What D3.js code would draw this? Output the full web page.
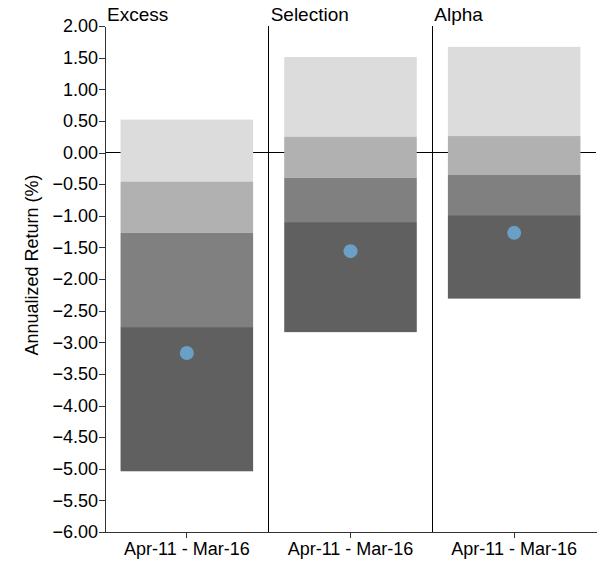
<!DOCTYPE html>
<html lang="en">
<head>
    <meta charset="UTF-8">
    <title>Annualized Return Ranges</title>
    <script src="https://d3js.org/d3.v7.min.js"></script>
    <style>
        body { margin: 0; background: #fff; }
        svg text { font-family: "Liberation Sans", Arial, sans-serif; fill: #000; }
        .axis path, .axis line { fill: none; stroke: #333; shape-rendering: crispEdges; }
        .axis text { font-size: 18px; }
        .divider, .zero { stroke: #000; shape-rendering: crispEdges; }
    </style>
</head>
<body>
    <svg width="607" height="563"></svg>
    <script>
        // data
        const panels = ["Excess", "Selection", "Alpha"];
        const period = "Apr-11 - Mar-16";
        const p5  = [0.52, 1.51, 1.67];
        const p25 = [-0.46, 0.25, 0.26];
        const p50 = [-1.27, -0.40, -0.35];
        const p75 = [-2.76, -1.10, -0.99];
        const p95 = [-5.04, -2.84, -2.31];
        const fund = [-3.17, -1.56, -1.27];
        const yTicks = [2, 1.5, 1, 0.5, 0, -0.5, -1, -1.5, -2, -2.5, -3, -3.5, -4, -4.5, -5, -5.5, -6];
        const bandColors = ["#dcdcdc", "#b1b1b1", "#7f807f", "#606060"];

        const svg = d3.select("svg");
        const plotLeft = 105, plotRight = 596, plotTop = 26, plotBottom = 532;

        const y = d3.scaleLinear().domain([-6, 2]).range([plotBottom, plotTop]);
        const x = d3.scaleBand().domain(panels).range([plotLeft, plotRight]);
        const inner = d3.scaleBand().domain([period]).range([0, x.bandwidth()]).padding(0.105);

        // zero line behind the bars
        svg.append("line").attr("class", "zero")
            .attr("x1", plotLeft).attr("x2", plotRight)
            .attr("y1", y(0)).attr("y2", y(0));

        // panel dividers
        svg.selectAll(".divider")
            .data(panels.slice(1))
            .enter().append("line")
            .attr("class", "divider")
            .attr("x1", d => x(d)).attr("x2", d => x(d))
            .attr("y1", plotTop).attr("y2", plotBottom);

        // panel titles
        svg.selectAll(".title")
            .data(panels)
            .enter().append("text")
            .attr("class", "title")
            .attr("x", d => x(d) + 2)
            .attr("y", 21)
            .style("font-size", "19px")
            .text(d => d);

        // stacked percentile bands
        const rows = panels.map((p, i) => ({
            panel: p,
            edges: [p5[i], p25[i], p50[i], p75[i], p95[i]],
            fund: fund[i]
        }));

        const g = svg.selectAll(".panel")
            .data(rows)
            .enter().append("g")
            .attr("class", "panel")
            .attr("transform", d => `translate(${x(d.panel)},0)`);

        g.selectAll("rect")
            .data(d => d3.range(4).map(k => ({hi: d.edges[k], lo: d.edges[k + 1], k: k})))
            .enter().append("rect")
            .attr("x", inner(period))
            .attr("width", inner.bandwidth())
            .attr("y", d => y(d.hi))
            .attr("height", d => y(d.lo) - y(d.hi))
            .attr("fill", d => bandColors[d.k]);

        g.append("circle")
            .attr("cx", inner(period) + inner.bandwidth() / 2)
            .attr("cy", d => y(d.fund))
            .attr("r", 7)
            .attr("fill", "#6a9fc6");

        // x axis per panel
        g.append("g")
            .attr("class", "axis")
            .attr("transform", `translate(0,${plotBottom})`)
            .call(d3.axisBottom(inner).tickSize(6).tickSizeOuter(0).tickPadding(4));

        // y axis
        svg.append("g")
            .attr("class", "axis")
            .attr("transform", `translate(${plotLeft},0)`)
            .call(d3.axisLeft(y).tickValues(yTicks).tickFormat(d3.format(".2f"))
                .tickSize(6).tickSizeOuter(0).tickPadding(1));

        svg.append("text")
            .attr("transform", `translate(38,265) rotate(-90)`)
            .attr("text-anchor", "middle")
            .style("font-size", "18px")
            .text("Annualized Return (%)");
    </script>
</body>
</html>
